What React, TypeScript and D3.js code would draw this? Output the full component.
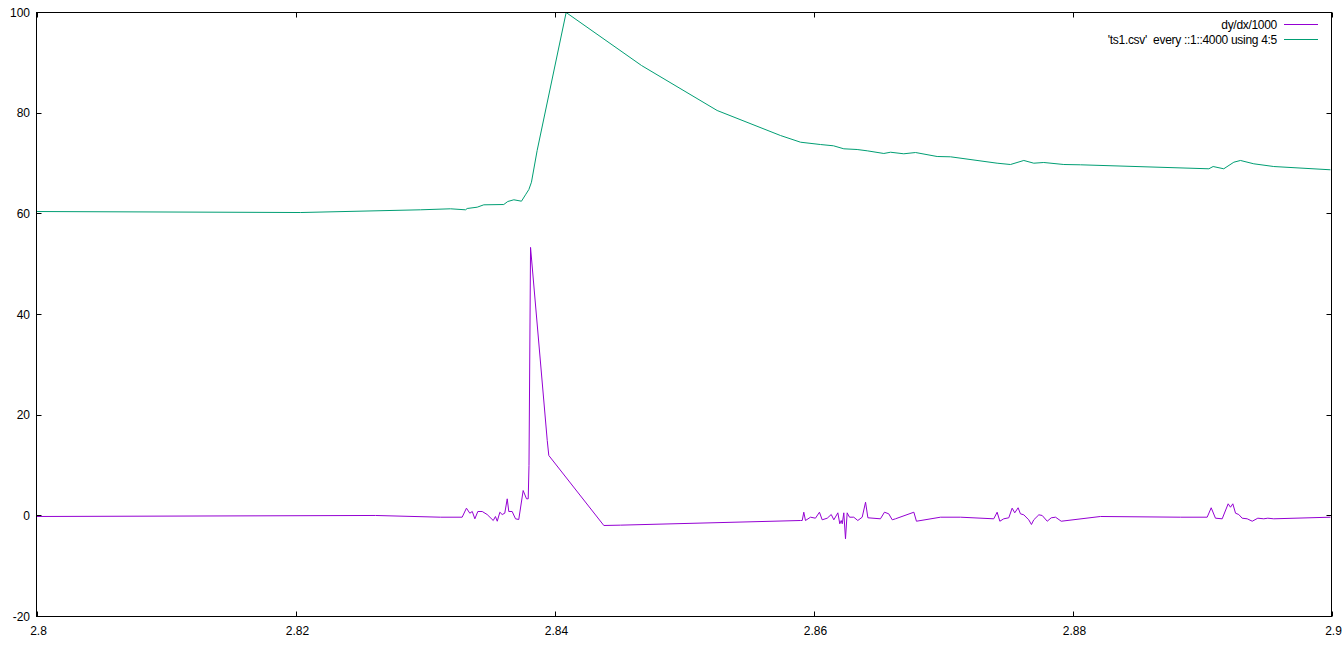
import React from "react";
import * as d3 from "d3";

const xTicks = [2.8, 2.82, 2.84, 2.86, 2.88, 2.9];
const yTicks = [-20, 0, 20, 40, 60, 80, 100];

const legendLabels = ["dy/dx/1000", "'ts1.csv'  every ::1::4000 using 4:5"];

const derivX = [2.8, 2.82618, 2.8312, 2.83287, 2.8332, 2.83346, 2.83365, 2.83385, 2.83408, 2.83442, 2.8348, 2.83527, 2.83544, 2.83558, 2.83578, 2.83596, 2.83616, 2.83635, 2.83647, 2.83673, 2.83699, 2.83724, 2.83758, 2.83784, 2.83797, 2.83803, 2.83815, 2.83944, 2.83956, 2.84381, 2.8451, 2.859, 2.85913, 2.85925, 2.85938, 2.85977, 2.86015, 2.86046, 2.86067, 2.86106, 2.86137, 2.86157, 2.86188, 2.86203, 2.86214, 2.86222, 2.86234, 2.86247, 2.8626, 2.86278, 2.86311, 2.86342, 2.86376, 2.86402, 2.8642, 2.86517, 2.86548, 2.86581, 2.86608, 2.86633, 2.86775, 2.86795, 2.86981, 2.87135, 2.87392, 2.87418, 2.87439, 2.87469, 2.87508, 2.87534, 2.87554, 2.8758, 2.87598, 2.87624, 2.87662, 2.87683, 2.87701, 2.8774, 2.87766, 2.87805, 2.87836, 2.87869, 2.87913, 2.88216, 2.88834, 2.8904, 2.89071, 2.89104, 2.89156, 2.89202, 2.8922, 2.89238, 2.89259, 2.89284, 2.8931, 2.89349, 2.89388, 2.89431, 2.89477, 2.89508, 2.89554, 2.89992];
const derivY = [-0.13, 0.07, -0.27, -0.27, 1.52, 0.52, 0.86, -0.59, 0.86, 0.86, 0.26, -0.93, -0.13, -1.07, 0.72, 0.26, 0.52, 3.38, 0.86, 0.86, -0.59, -0.73, 5.03, 3.38, 3.38, 10.0, 53.33, 14.97, 11.99, -1.92, -1.85, -0.93, -0.93, 0.72, -0.93, -0.27, -0.47, 0.72, -0.79, -0.47, 0.26, -0.79, 0.6, -1.58, -0.93, -1.58, 0.6, -4.56, 0.6, -0.27, -0.27, -0.93, -0.27, 2.71, -0.39, -0.59, 0.72, 0.4, -0.79, -0.59, 0.72, -1.07, -0.27, -0.27, -0.59, 0.72, -1.07, -0.59, -0.39, 1.52, 0.6, 1.6, 0.4, 0.2, -0.79, -1.72, -0.79, 0.2, 0.07, -1.07, -0.39, -0.27, -1.07, -0.13, -0.27, -0.27, 1.6, -0.47, -0.59, 2.39, 1.71, 2.39, 0.52, 0.26, -0.47, -0.59, -1.07, -0.47, -0.59, -0.47, -0.59, -0.27];

const tsX = [2.8, 2.8204, 2.82965, 2.83197, 2.83313, 2.83326, 2.83403, 2.83454, 2.83608, 2.83639, 2.83686, 2.83745, 2.83776, 2.83802, 2.83822, 2.83866, 2.8409, 2.84672, 2.85256, 2.85745, 2.859, 2.86054, 2.86154, 2.86234, 2.86337, 2.86415, 2.86543, 2.86595, 2.86697, 2.86788, 2.86955, 2.87058, 2.87418, 2.87521, 2.87624, 2.87701, 2.87778, 2.87933, 2.88062, 2.89053, 2.89086, 2.89168, 2.89246, 2.89297, 2.894, 2.89554, 2.89992];
const tsY = [60.46, 60.26, 60.8, 61.0, 60.8, 61.06, 61.32, 61.79, 61.85, 62.45, 62.79, 62.51, 63.78, 64.83, 66.28, 72.58, 100, 89.47, 80.53, 75.56, 74.23, 73.77, 73.52, 72.92, 72.78, 72.52, 71.99, 72.24, 71.93, 72.18, 71.39, 71.33, 70.06, 69.8, 70.6, 70.06, 70.2, 69.8, 69.74, 68.95, 69.4, 68.95, 70.26, 70.6, 69.94, 69.4, 68.75];

const colors = ["#9400d3", "#009e73"];

export default function App() {
  const W = 1343, H = 645;
  const left = 36.5, right = 1331.5, top = 12.5, bottom = 616.5;
  const x = d3.scaleLinear().domain([2.8, 2.9]).range([left, right]);
  const y = d3.scaleLinear().domain([-20, 100]).range([bottom, top]);
  const line = d3.line<[number, number]>().x(d => x(d[0])).y(d => y(d[1]));
  const deriv = derivX.map((v, i) => [v, derivY[i]] as [number, number]);
  const ts = tsX.map((v, i) => [v, tsY[i]] as [number, number]);
  const font = "'Liberation Sans', Arial, sans-serif";
  const tl = 5;
  const xf = d3.format("");
  return (
    <svg width={W} height={H} style={{ position: "absolute", left: 0, top: 0, background: "#fff" }}>
      <rect x={0} y={0} width={W} height={H} fill="#fff" />
      <g stroke="#000" strokeWidth={1}>
        {xTicks.map(t => (
          <g key={"x" + t}>
            <line x1={Math.round(x(t)) + 0.5} x2={Math.round(x(t)) + 0.5} y1={bottom} y2={bottom - tl} />
            <line x1={Math.round(x(t)) + 0.5} x2={Math.round(x(t)) + 0.5} y1={top} y2={top + tl} />
          </g>
        ))}
        {yTicks.map(t => (
          <g key={"y" + t}>
            <line x1={left} x2={left + tl} y1={Math.round(y(t) - 0.5) + 0.5} y2={Math.round(y(t) - 0.5) + 0.5} />
            <line x1={right} x2={right - tl} y1={Math.round(y(t) - 0.5) + 0.5} y2={Math.round(y(t) - 0.5) + 0.5} />
          </g>
        ))}
      </g>
      <g fontFamily={font} fontSize={12} fill="#000">
        {xTicks.map(t => (
          <text key={"xl" + t} x={x(t) + 2} y={635} textAnchor="middle">{xf(t)}</text>
        ))}
        {yTicks.map(t => (
          <text key={"yl" + t} x={30} y={y(t) + 4} textAnchor="end">{t}</text>
        ))}
      </g>
      <path d={line(ts) || ""} fill="none" stroke={colors[1]} strokeWidth={1} />
      <path d={line(deriv) || ""} fill="none" stroke={colors[0]} strokeWidth={1} />
      <rect x={left} y={top} width={right - left} height={bottom - top} fill="none" stroke="#000" strokeWidth={1} />
      <g fontFamily={font} fontSize={12}>
        {legendLabels.map((l, i) => (
          <g key={l}>
            <text x={1277} y={28.5 + i * 15} textAnchor="end" fill="#000" letterSpacing={-0.3} style={{ whiteSpace: "pre" }} xmlSpace="preserve">{l}</text>
            <line x1={1284} x2={1318} y1={24.5 + i * 15} y2={24.5 + i * 15} stroke={colors[i]} strokeWidth={1} />
          </g>
        ))}
      </g>
    </svg>
  );
}
